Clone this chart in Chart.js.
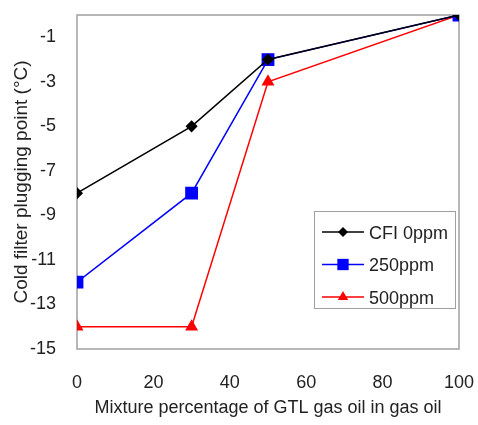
<!DOCTYPE html>
<html>
<head>
<meta charset="utf-8">
<script src="https://cdn.jsdelivr.net/npm/chart.js@4/dist/chart.umd.min.js"></script>
<style>
  html, body { margin: 0; padding: 0; background: #fff; }
  #wrap { width: 478px; height: 425px; }
</style>
</head>
<body>
<div id="wrap"><canvas id="myChart" width="478" height="425"></canvas></div>
<script>
// mixture percentage of GTL gas oil (%)
var mixPercent = [0, 30, 50, 100];
// cold filter plugging point (°C)
var cfi0ppm = [-8, -5, -2, 0];
var cfi250ppm = [-12, -8, -2, 0];
var cfi500ppm = [-14, -14, -3, 0];
var seriesNames = ['CFI 0ppm', '250ppm', '500ppm'];
var yTicks = [-1, -3, -5, -7, -9, -11, -13, -15];
var xTicks = [0, 20, 40, 60, 80, 100];

var FONT = "'Liberation Sans', Arial, sans-serif";
var TEXT = '#222';

function pts(vals) {
    return mixPercent.map(function (x, i) { return { x: x, y: vals[i] }; });
}

// plot frame
var framePlugin = {
    id: 'frame',
    beforeDatasetsDraw: function (chart) {
        var a = chart.chartArea, c = chart.ctx;
        c.save();
        c.strokeStyle = '#a0a0a0';
        c.lineWidth = 1.5;
        c.strokeRect(a.left, a.top, a.right - a.left, a.bottom - a.top);
        c.restore();
    }
};

function marker(c, style, x, y, r, color) {
    c.fillStyle = color;
    c.beginPath();
    if (style === 'rectRot') {
        c.moveTo(x, y - r); c.lineTo(x + r, y); c.lineTo(x, y + r); c.lineTo(x - r, y);
    } else if (style === 'rect') {
        var s = r * Math.SQRT1_2;
        c.rect(x - s, y - s, 2 * s, 2 * s);
    } else {
        c.moveTo(x, y - r);
        c.lineTo(x + r * 0.866, y + r * 0.5);
        c.lineTo(x - r * 0.866, y + r * 0.5);
    }
    c.closePath();
    c.fill();
}

// legend box inside the plot (lower right)
var boxLegend = {
    id: 'boxLegend',
    afterDatasetsDraw: function (chart) {
        var c = chart.ctx;
        var bx = 314, by = 211, bw = 141, bh = 97;
        c.save();
        c.fillStyle = '#fff';
        c.fillRect(bx, by, bw, bh);
        c.strokeStyle = '#a0a0a0';
        c.lineWidth = 1;
        c.strokeRect(bx + 0.5, by + 0.5, bw, bh);
        c.font = '18px ' + FONT;
        c.textBaseline = 'middle';
        chart.data.datasets.forEach(function (ds, i) {
            var y = by + 21 + i * 32.5;
            c.strokeStyle = ds.borderColor;
            c.lineWidth = 1.5;
            c.beginPath();
            c.moveTo(bx + 8, y); c.lineTo(bx + 50, y);
            c.stroke();
            marker(c, ds.pointStyle, bx + 29, y, ds.pointRadius, ds.borderColor);
            c.fillStyle = TEXT;
            c.fillText(ds.label, bx + 55, y + 2);
        });
        c.restore();
    }
};

var ctx = document.getElementById('myChart').getContext('2d');
var chart = new Chart(ctx, {
    type: 'line',
    data: {
        datasets: [{
            label: seriesNames[0],
            data: pts(cfi0ppm),
            borderColor: '#000000',
            backgroundColor: '#000000',
            pointStyle: 'rectRot',
            pointRadius: 5,
            borderWidth: 1.5
        }, {
            label: seriesNames[1],
            data: pts(cfi250ppm),
            borderColor: '#0000ff',
            backgroundColor: '#0000ff',
            pointStyle: 'rect',
            pointRadius: 8,
            borderWidth: 1.5
        }, {
            label: seriesNames[2],
            data: pts(cfi500ppm),
            borderColor: '#ff0000',
            backgroundColor: '#ff0000',
            pointStyle: 'triangle',
            pointRadius: 6,
            borderWidth: 1.5
        }]
    },
    plugins: [framePlugin, boxLegend],
    options: {
        responsive: false,
        animation: false,
        layout: { padding: { top: 15, right: 19, left: 8, bottom: 5 } },
        plugins: {
            legend: { display: false },
            tooltip: { enabled: false }
        },
        elements: { point: { borderWidth: 0 }, line: { tension: 0 } },
        scales: {
            x: {
                type: 'linear',
                min: 0,
                max: 100,
                grid: { display: false, drawTicks: false },
                border: { display: false },
                afterFit: function (s) { s.height = 71; s.paddingLeft = 0; s.paddingRight = 0; },
                afterBuildTicks: function (s) { s.ticks = xTicks.map(function (v) { return { value: v }; }); },
                ticks: { padding: 23, color: TEXT, font: { family: FONT, size: 18 } },
                title: {
                    display: true,
                    text: 'Mixture percentage of GTL gas oil in gas oil',
                    color: TEXT,
                    font: { family: FONT, size: 18 },
                    padding: { top: 0, bottom: 1 }
                }
            },
            y: {
                min: -15,
                max: 0,
                grid: { display: false, drawTicks: false },
                border: { display: false },
                afterFit: function (s) { s.width = 69; s.paddingTop = 0; s.paddingBottom = 0; },
                afterBuildTicks: function (s) { s.ticks = yTicks.map(function (v) { return { value: v }; }); },
                ticks: { padding: 21, color: TEXT, font: { family: FONT, size: 18 } },
                title: {
                    display: true,
                    text: 'Cold filter plugging point (°C)',
                    color: TEXT,
                    font: { family: FONT, size: 19 },
                    padding: { top: 2, bottom: 0 }
                }
            }
        }
    }
});
</script>
</body>
</html>
